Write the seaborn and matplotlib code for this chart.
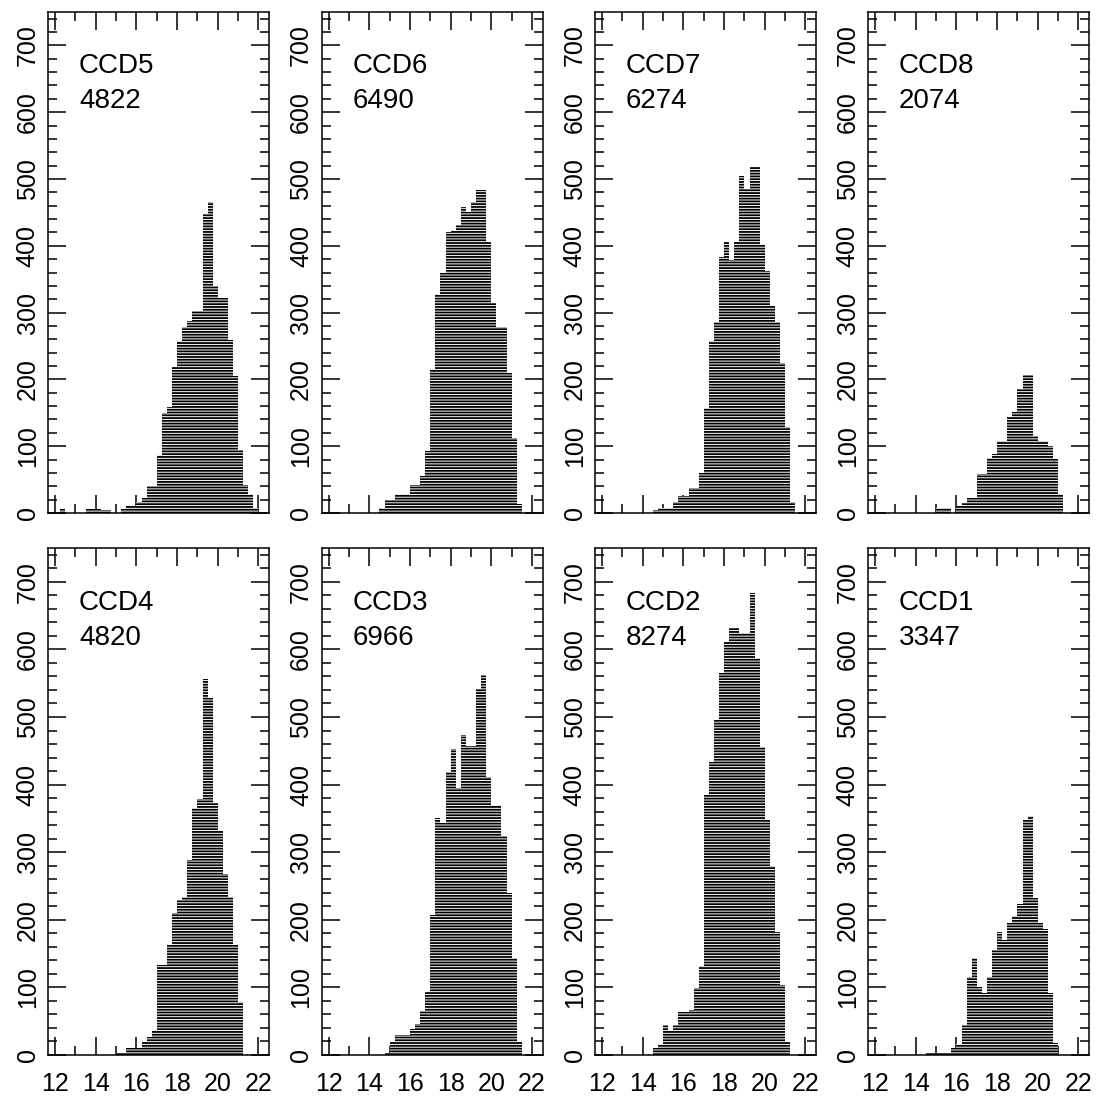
import numpy as np
import matplotlib
matplotlib.use("Agg")
import matplotlib.pyplot as plt
import seaborn as sns
from matplotlib.ticker import FixedLocator, MultipleLocator

# ---------------- data ----------------
# magnitude bin edges (0.25 mag bins)
bin_edges = [12.0, 12.25, 12.5, 12.75, 13.0, 13.25, 13.5, 13.75,
             14.0, 14.25, 14.5, 14.75, 15.0, 15.25, 15.5, 15.75,
             16.0, 16.25, 16.5, 16.75, 17.0, 17.25, 17.5, 17.75,
             18.0, 18.25, 18.5, 18.75, 19.0, 19.25, 19.5, 19.75,
             20.0, 20.25, 20.5, 20.75, 21.0, 21.25, 21.5, 21.75, 22.0]

# counts per bin (40 bins, 12.0 ... 21.75)
ccd5 = [0, 6, 0, 0, 0, 0, 6, 6,
        6, 4, 4, 0, 0, 6, 10, 10,
        16, 22, 40, 40, 87, 150, 159, 218,
        257, 279, 287, 302, 302, 448, 466, 340,
        322, 322, 259, 205, 95, 42, 28, 8]
ccd6 = [0, 0, 0, 0, 0, 0, 0, 0,
        0, 0, 8, 20, 20, 29, 29, 29,
        42, 42, 55, 93, 215, 328, 359, 420,
        422, 431, 458, 450, 466, 484, 484, 406,
        314, 278, 278, 210, 113, 14, 0, 0]
ccd7 = [0, 0, 0, 0, 0, 0, 0, 0,
        0, 0, 5, 8, 8, 8, 16, 25,
        26, 37, 38, 60, 157, 258, 286, 383,
        405, 378, 405, 505, 485, 518, 518, 401,
        363, 312, 286, 225, 128, 16, 0, 0]
ccd8 = [0, 0, 0, 0, 0, 0, 0, 0,
        0, 0, 0, 0, 7, 7, 7, 0,
        10, 15, 23, 23, 58, 58, 83, 88,
        108, 108, 143, 151, 186, 206, 206, 116,
        108, 108, 101, 81, 28, 0, 0, 0]
ccd4 = [0, 0, 0, 0, 0, 0, 0, 0,
        0, 0, 0, 0, 3, 3, 11, 11,
        11, 19, 27, 37, 133, 133, 163, 210,
        229, 234, 289, 365, 379, 556, 528, 373,
        332, 268, 234, 163, 79, 0, 0, 0]
ccd3 = [0, 0, 0, 0, 0, 0, 0, 0,
        0, 0, 0, 3, 19, 30, 30, 30,
        38, 46, 65, 93, 207, 351, 343, 419,
        452, 395, 474, 457, 457, 542, 562, 411,
        370, 370, 324, 240, 144, 19, 0, 0]
ccd2 = [0, 0, 0, 0, 0, 0, 0, 0,
        0, 0, 11, 16, 44, 36, 44, 63,
        63, 67, 99, 131, 385, 434, 496, 565,
        611, 631, 631, 624, 624, 683, 587, 456,
        348, 279, 182, 104, 19, 0, 0, 0]
ccd1 = [0, 0, 0, 0, 0, 0, 0, 0,
        0, 0, 3, 3, 3, 3, 3, 11,
        16, 44, 116, 143, 100, 91, 116, 156,
        182, 170, 195, 206, 223, 348, 353, 232,
        195, 186, 91, 18, 0, 0, 0, 0]

panel_names = ["CCD5", "CCD6", "CCD7", "CCD8", "CCD4", "CCD3", "CCD2", "CCD1"]
panel_totals = ["4822", "6490", "6274", "2074", "4820", "6966", "8274", "3347"]
panel_counts = [ccd5, ccd6, ccd7, ccd8, ccd4, ccd3, ccd2, ccd1]

x_ticks = [12, 14, 16, 18, 20, 22]
y_ticks = [0, 100, 200, 300, 400, 500, 600, 700]

# ---------------- style ----------------
sns.set_style("ticks")
plt.rcParams['font.family'] = ['Liberation Sans', 'DejaVu Sans']
plt.rcParams['hatch.linewidth'] = 1.3
plt.rcParams['hatch.color'] = 'black'
plt.rcParams['text.color'] = 'black'
plt.rcParams['xtick.color'] = 'black'
plt.rcParams['ytick.color'] = 'black'

W, H = 1096, 1103
fig = plt.figure(figsize=(W / 100, H / 100), dpi=100)
fig.patch.set_facecolor('white')

centers = (np.array(bin_edges[:-1]) + np.array(bin_edges[1:])) / 2.0
col_left_px = [48, 321.5, 595, 868]
ax_w_px = 221

for i, (name, total, counts) in enumerate(zip(panel_names, panel_totals, panel_counts)):
    row, col = divmod(i, 4)
    left = col_left_px[col] / W
    if row == 0:
        rect = [left, (H - 513) / H, ax_w_px / W, 501 / H]
    else:
        rect = [left, (H - 1055) / H, ax_w_px / W, 507 / H]
    ax = fig.add_axes(rect)
    sns.histplot(x=centers, weights=counts, bins=bin_edges, ax=ax,
                 element='bars', fill=True, alpha=1,
                 facecolor='white', edgecolor='black', linewidth=0,
                 hatch='------')
    ax.set_xlim(11.65, 22.52)
    ax.set_ylim(0, 750)
    ax.set_xlabel('')
    ax.set_ylabel('')
    ax.set_facecolor('white')

    ax.xaxis.set_major_locator(FixedLocator(x_ticks))
    ax.xaxis.set_minor_locator(MultipleLocator(1))
    ax.yaxis.set_major_locator(FixedLocator(y_ticks))
    ax.yaxis.set_minor_locator(MultipleLocator(20))

    ax.tick_params(which='both', direction='in', top=True, right=True,
                   width=1.1, color='black', labelcolor='black')
    ax.tick_params(which='major', length=13)
    ax.tick_params(which='minor', length=6.5)
    ax.tick_params(axis='y', labelrotation=90, labelsize=18, pad=6)
    ax.tick_params(axis='x', labelsize=18, pad=12)
    for lbl in ax.get_yticklabels():
        lbl.set_va('center')
    if row == 0:
        ax.tick_params(axis='x', labelbottom=False)

    for sp in ax.spines.values():
        sp.set_color('black')
        sp.set_linewidth(1.1)
        sp.set_visible(True)

    ax.text(0.14, 0.892, name, transform=ax.transAxes, fontsize=20,
            ha='left', va='center', color='black')
    ax.text(0.14, 0.823, total, transform=ax.transAxes, fontsize=20,
            ha='left', va='center', color='black')

fig.savefig("out.png", dpi=100, facecolor='white')
